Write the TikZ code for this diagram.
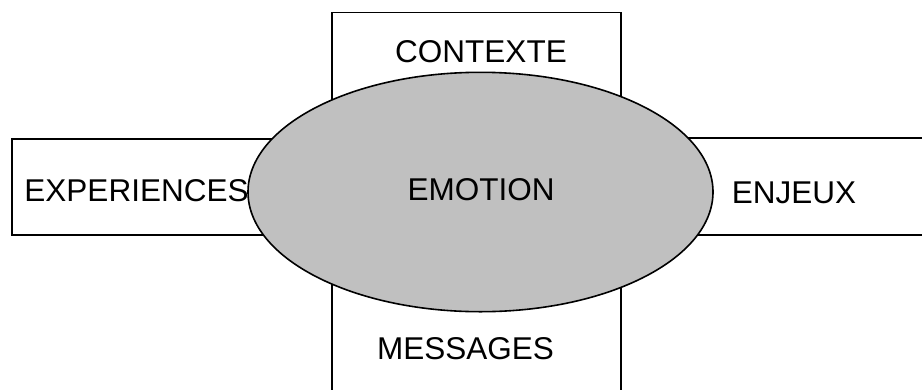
\documentclass[tikz,border=0pt]{standalone}
\usepackage{fontspec}
\setmainfont{Liberation Sans}
\begin{document}
\begin{tikzpicture}[x=1pt,y=-1pt,
  box/.style={draw=black,line width=1.6pt,fill=white,inner sep=0pt,outer sep=0pt},
  lbl/.style={anchor=base,inner sep=0pt,font=\fontsize{31.5}{38}\selectfont}]
\useasboundingbox (0,0) rectangle (922,389);
\clip (0,0) rectangle (922,389);
\fill[white] (0,0) rectangle (922,389);
\node[box,minimum width=289pt,minimum height=137pt] (top) at (476.5,81) {};
\node[box,minimum width=310pt,minimum height=96pt] (left) at (167,187) {};
\node[box,minimum width=300pt,minimum height=97pt] (right) at (795,186.5) {};
\node[box,minimum width=289pt,minimum height=160pt] (bottom) at (476.5,330) {};
\draw[line width=1.6pt,fill={rgb,255:red,192;green,192;blue,192}] (480.5,192) ellipse (232.5 and 119.7);
\node[lbl] (ctx) at (481,62) {CONTEXTE};
\node[lbl] (exp) at (136.5,201) {EXPERIENCES};
\node[lbl] (enj) at (794,203) {ENJEUX};
\node[lbl] (msg) at (465.5,359) {MESSAGES};
\node[lbl] (emt) at (481,200) {EMOTION};
\end{tikzpicture}
\end{document}
